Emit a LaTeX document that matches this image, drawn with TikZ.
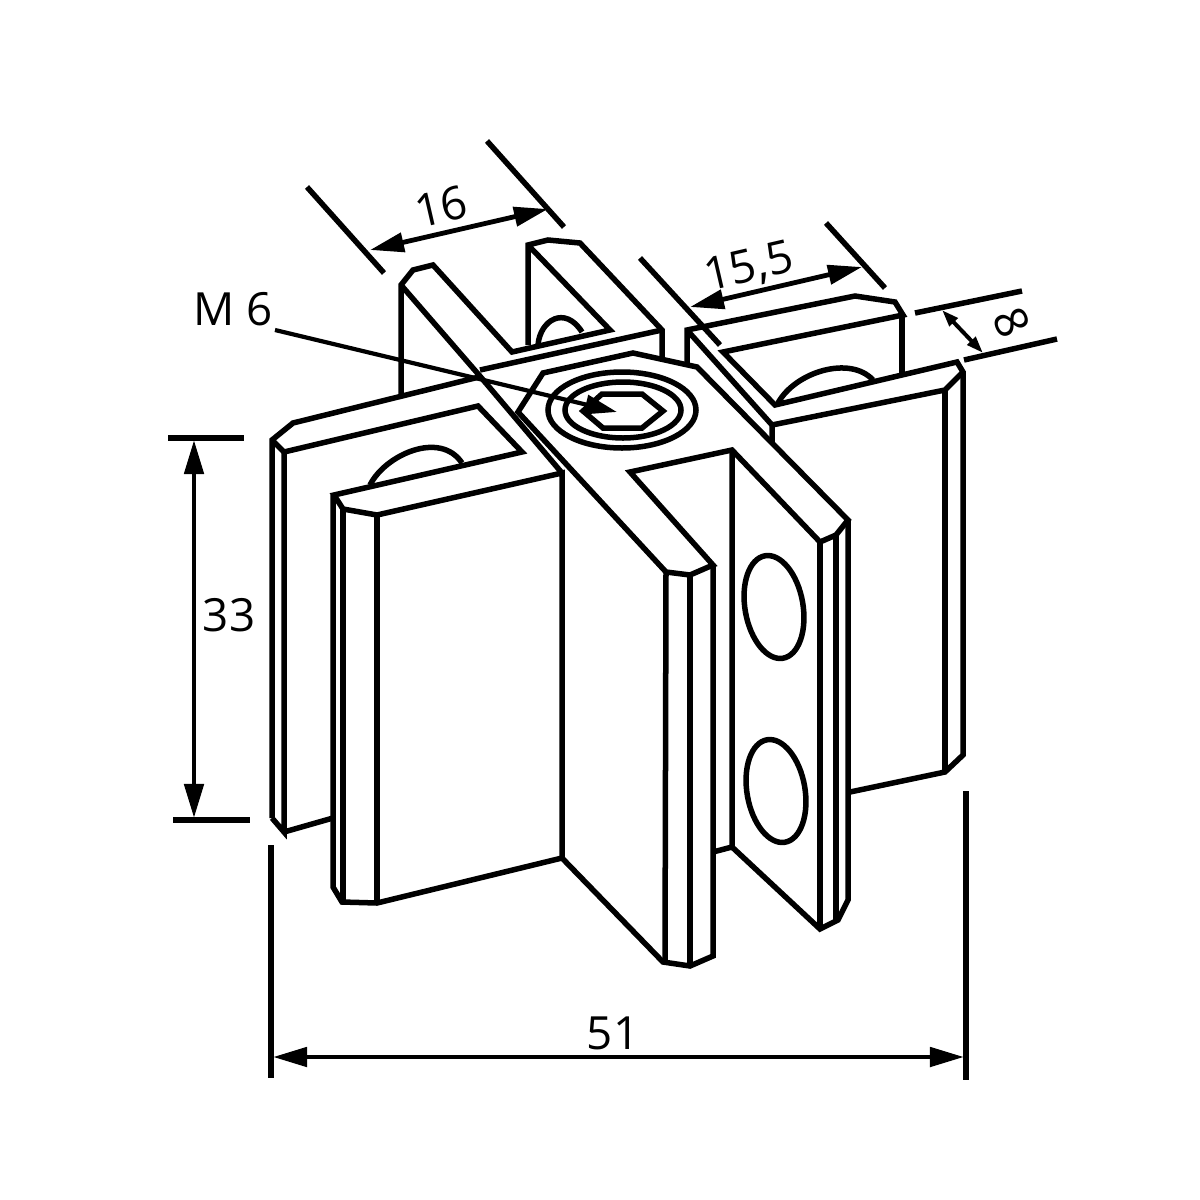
\documentclass[tikz,border=0pt]{standalone}
\usepackage{fontspec}
\setmainfont{Open Sans}
\usetikzlibrary{arrows.meta}
\tikzset{
  outline/.style={line width=0.055cm, line join=miter},
  extline/.style={line width=0.055cm},
  dimline/.style={line width=0.048cm, {Triangle[length=0.34cm, width=0.19cm]}-{Triangle[length=0.34cm, width=0.19cm]}},
  smalldim/.style={line width=0.04cm, {Triangle[length=0.17cm, width=0.11cm]}-{Triangle[length=0.17cm, width=0.11cm]}},
  leader/.style={line width=0.042cm, -{Triangle[length=0.32cm, width=0.19cm]}},
  dimlabel/.style={inner sep=0pt, font=\fontsize{13}{16}\selectfont}
}

\begin{document}
\begin{tikzpicture}[x=0.01cm, y=-0.01cm]
  \useasboundingbox (0,0) rectangle (1200,1200);
  \draw[outline] (528,345) -- (528,245) -- (548,240) -- (580,243) -- (662,330) -- (662,358);
  \draw[outline] (528,245) -- (610,330) -- (512,352) -- (433,265) -- (413,270) -- (401,285) -- (401,397);
  \draw[outline] (401,285) -- (479,375) -- (562,473);
  \draw[outline] (662,330) -- (480,370);
  \draw[outline] (538,345) .. controls (540,320) and (565,305) .. (582,332);
  \draw[outline] (666,572) -- (518,412) -- (543,373) -- (633,353) -- (697,367) -- (848,520) -- (836,535) -- (820,542) -- (732,450) -- (630,472) -- (713,565) -- (690,575) -- cycle;
  \draw[outline] (272,818) -- (272,440) -- (293,423) -- (479,377);
  \draw[outline] (272,440) -- (284,452) -- (478,406) -- (522,452) -- (334,495) -- (343,509) -- (377,515) -- (562,473) -- (562,858) -- (377,903) -- (342,902) -- (333,887) -- (333,495);
  \draw[outline] (343,509) -- (343,902);
  \draw[outline] (377,515) -- (377,903);
  \draw[outline] (284,452) -- (284,832) -- (272,818);
  \draw[outline] (284,832) -- (333,818);
  \draw[outline] (370,485) .. controls (385,455) and (440,430) .. (462,463);
  \draw[outline] (562,858) -- (663,962) -- (690,966) -- (713,956) -- (713,565);
  \draw[outline] (666,572) -- (665,962);
  \draw[outline] (690,575) -- (690,966);
  \draw[outline] (713,852) -- (732,847) -- (732,450);
  \draw[outline] (732,847) -- (820,929) -- (838,920) -- (848,900) -- (848,520);
  \draw[outline] (820,542) -- (820,929);
  \draw[outline] (836,535) -- (836,921);
  \draw[outline] (687,363) -- (687,330) -- (855,296) -- (895,302) -- (903,315) -- (723,352) -- (775,405) -- (957,362) -- (963,372) -- (963,755) -- (945,772) -- (850,792);
  \draw[outline] (687,330) -- (772,425) -- (772,443);
  \draw[outline] (772,425) -- (945,390) -- (963,372);
  \draw[outline] (945,390) -- (945,772);
  \draw[outline] (902,315) -- (902,373);
  \draw[outline] (778,403) .. controls (795,372) and (850,355) .. (873,380);
  \draw[outline] (622,410) ellipse [x radius=74, y radius=38];
  \draw[outline] (623,410) ellipse [x radius=58, y radius=28];
  \draw[outline] (602,394) -- (642,394) -- (663,411) -- (642,428) -- (603,428) -- (583,411) -- cycle;
  \draw[outline, rotate around={10:(774,607)}] (774,607) ellipse [x radius=29, y radius=52];
  \draw[outline, rotate around={10:(776,791)}] (776,791) ellipse [x radius=29, y radius=52];

  \node[dimlabel] (labelM) at (233,309) {M 6};
  \coordinate (leaderstart) at (275,330);
  \coordinate (leaderend) at (617,412);
  \draw[leader] (leaderstart) -- (leaderend);

  \coordinate (extA1) at (307,187);
  \coordinate (extA2) at (384,273);
  \coordinate (extB1) at (487,141);
  \coordinate (extB2) at (564,227);
  \draw[extline] (extA1) -- (extA2);
  \draw[extline] (extB1) -- (extB2);
  \coordinate (dimA) at (370,250);
  \coordinate (dimB) at (548,209);
  \draw[dimline] (dimA) -- (dimB);
  \node[dimlabel, rotate=13] (label16) at (441,207) {16};

  \coordinate (extC1) at (640,258);
  \coordinate (extC2) at (720,345);
  \coordinate (extD1) at (826,223);
  \coordinate (extD2) at (885,288);
  \draw[extline] (extC1) -- (extC2);
  \draw[extline] (extD1) -- (extD2);
  \coordinate (dimC) at (690,307);
  \coordinate (dimD) at (862,267);
  \draw[dimline] (dimC) -- (dimD);
  \node[dimlabel, rotate=13] (label155) at (749,268) {15,5};

  \coordinate (extE1) at (915,313);
  \coordinate (extE2) at (1022,291);
  \coordinate (extF1) at (964,360);
  \coordinate (extF2) at (1057,339);
  \draw[extline] (extE1) -- (extE2);
  \draw[extline] (extF1) -- (extF2);
  \coordinate (dimE) at (942,310);
  \coordinate (dimF) at (983,353);
  \draw[smalldim] (dimE) -- (dimF);
  \node[dimlabel, rotate=-65] (label8) at (1012,322) {8};

  \coordinate (extG1) at (168,438);
  \coordinate (extG2) at (244,438);
  \coordinate (extH1) at (173,820);
  \coordinate (extH2) at (250,820);
  \draw[extline] (extG1) -- (extG2);
  \draw[extline] (extH1) -- (extH2);
  \coordinate (dimG) at (194,440);
  \coordinate (dimH) at (194,818);
  \draw[dimline] (dimG) -- (dimH);
  \node[dimlabel] (label33) at (229,615) {33};

  \coordinate (extJ1) at (271,845);
  \coordinate (extJ2) at (271,1078);
  \coordinate (extK1) at (966,791);
  \coordinate (extK2) at (966,1080);
  \draw[extline] (extJ1) -- (extJ2);
  \draw[extline] (extK1) -- (extK2);
  \coordinate (dimJ) at (273,1057);
  \coordinate (dimK) at (964,1057);
  \draw[dimline] (dimJ) -- (dimK);
  \node[dimlabel] (label51) at (613,1033) {51};
\end{tikzpicture}
\end{document}
